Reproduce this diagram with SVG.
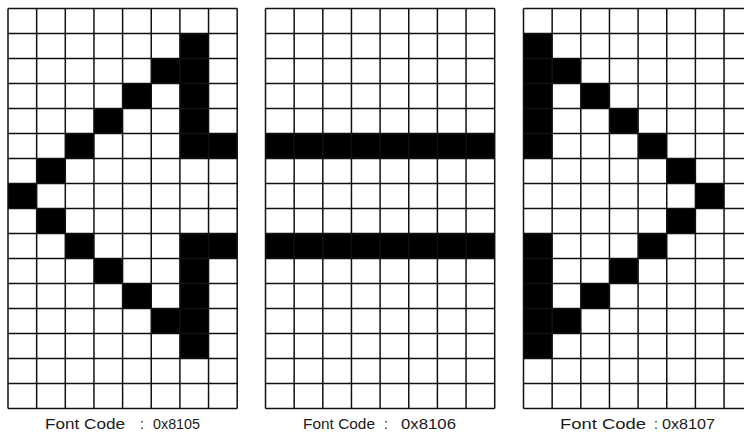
<svg xmlns="http://www.w3.org/2000/svg" xmlns:xlink="http://www.w3.org/1999/xlink" width="744" height="432" viewBox="0 0 744 432">
<style>
.bg{fill:#fff}
.on{fill:#000}
.grid{fill:none;stroke:#111;stroke-width:1.5}
.lbl{font-family:"Liberation Sans",Arial,sans-serif;font-size:14px;fill:#1a1a1a}
</style>
<defs>
<path id="gridlines" class="grid" d="M0 0V400M28.65 0V400M57.3 0V400M85.95 0V400M114.6 0V400M143.25 0V400M171.9 0V400M200.55 0V400M229.2 0V400M0 0H229.2M0 25H229.2M0 50H229.2M0 75H229.2M0 100H229.2M0 125H229.2M0 150H229.2M0 175H229.2M0 200H229.2M0 225H229.2M0 250H229.2M0 275H229.2M0 300H229.2M0 325H229.2M0 350H229.2M0 375H229.2M0 400H229.2"/>
</defs>
<rect class="bg" x="0" y="0" width="744" height="432"/>
<g id="font-0x8105" transform="translate(8,8.5)">
<path class="on" d="M171.9 25h28.65v125h-28.65zM200.55 125h28.65v25h-28.65zM143.25 50h28.65v25h-28.65zM114.6 75h28.65v25h-28.65zM85.95 100h28.65v25h-28.65zM57.3 125h28.65v25h-28.65zM28.65 150h28.65v25h-28.65zM0 175h28.65v25h-28.65zM28.65 200h28.65v25h-28.65zM57.3 225h28.65v25h-28.65zM171.9 225h28.65v125h-28.65zM200.55 225h28.65v25h-28.65zM85.95 250h28.65v25h-28.65zM114.6 275h28.65v25h-28.65zM143.25 300h28.65v25h-28.65z"/>
<use xlink:href="#gridlines" href="#gridlines"/>
</g>
<g id="font-0x8106" transform="translate(265.5,8.5)">
<path class="on" d="M0 125h229.2v25h-229.2zM0 225h229.2v25h-229.2z"/>
<use xlink:href="#gridlines" href="#gridlines"/>
</g>
<g id="font-0x8107" transform="translate(523.5,8.5)">
<path class="on" d="M0 25h28.65v125h-28.65zM28.65 50h28.65v25h-28.65zM57.3 75h28.65v25h-28.65zM85.95 100h28.65v25h-28.65zM114.6 125h28.65v25h-28.65zM143.25 150h28.65v25h-28.65zM171.9 175h28.65v25h-28.65zM143.25 200h28.65v25h-28.65zM114.6 225h28.65v25h-28.65zM0 225h28.65v125h-28.65zM85.95 250h28.65v25h-28.65zM57.3 275h28.65v25h-28.65zM28.65 300h28.65v25h-28.65z"/>
<use xlink:href="#gridlines" href="#gridlines"/>
</g>
<g id="labels">
<text class="lbl" y="429"><tspan x="45" textLength="80" lengthAdjust="spacingAndGlyphs">Font Code</tspan><tspan x="140">:</tspan><tspan x="153" textLength="47" lengthAdjust="spacingAndGlyphs">0x8105</tspan></text>
<text class="lbl" y="429"><tspan x="303" textLength="72" lengthAdjust="spacingAndGlyphs">Font Code</tspan><tspan x="384">:</tspan><tspan x="401" textLength="55" lengthAdjust="spacingAndGlyphs">0x8106</tspan></text>
<text class="lbl" y="429"><tspan x="560" textLength="86" lengthAdjust="spacingAndGlyphs">Font Code</tspan><tspan x="654">:</tspan><tspan x="662" textLength="53" lengthAdjust="spacingAndGlyphs">0x8107</tspan></text>
</g>
</svg>
